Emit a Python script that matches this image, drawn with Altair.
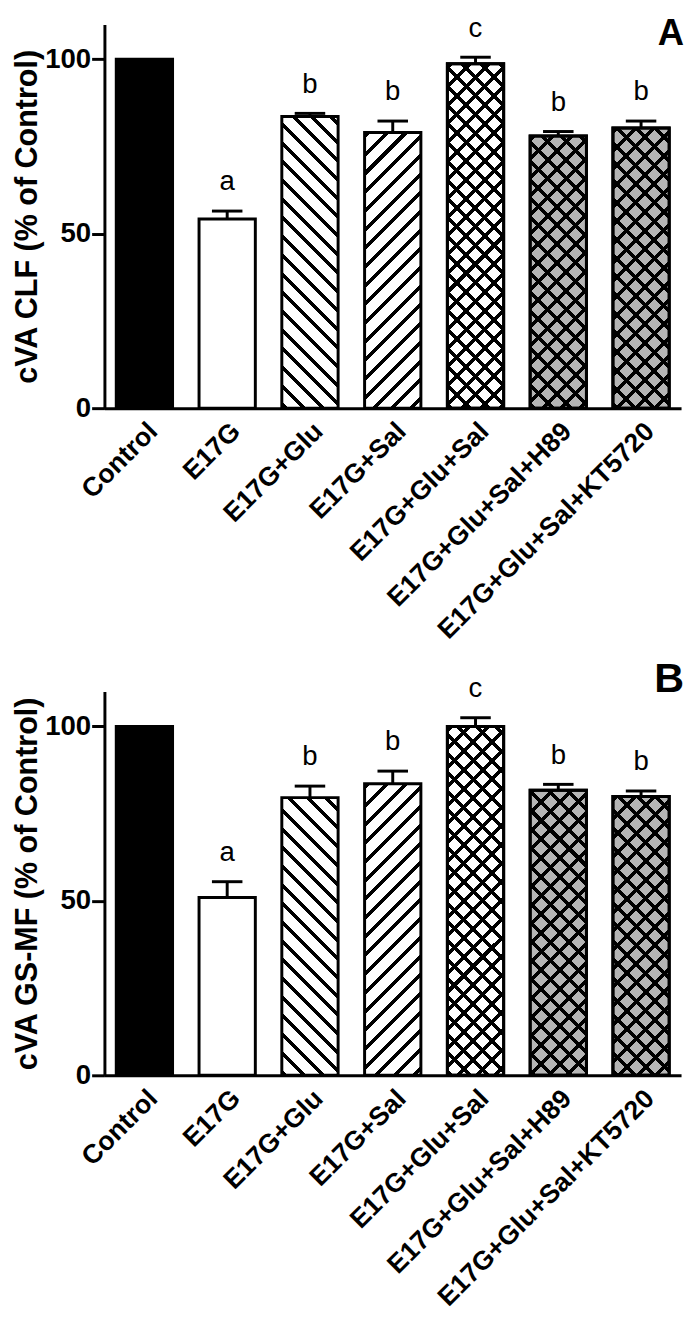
import math
import altair as alt
import pandas as pd

# ---------------- data ----------------
categories = ["Control", "E17G", "E17G+Glu", "E17G+Sal", "E17G+Glu+Sal",
              "E17G+Glu+Sal+H89", "E17G+Glu+Sal+KT5720"]
values_a = [100.0, 54.2, 83.6, 79.0, 98.7, 78.0, 80.3]
errors_a = [0.0, 2.3, 0.9, 3.3, 1.9, 1.3, 2.0]
values_b = [100.0, 51.0, 79.6, 83.6, 100.0, 81.7, 79.9]
errors_b = [0.0, 4.5, 3.3, 3.6, 2.5, 1.7, 1.6]
letters_a = ["", "a", "b", "b", "c", "b", "b"]
letters_b = ["", "a", "b", "b", "c", "b", "b"]
panel_labels = ["A", "B"]
y_titles = ["cVA CLF (% of Control)", "cVA GS-MF (% of Control)"]
y_ticks = [0, 50, 100]

# ---------------- styles ----------------
FONT = "Liberation Sans"
W, H = 586, 390
YMAX = 110
PAD_IN, PAD_OUT = 0.32, 0.143
GRAY = "#b5b5b5"
CLEAR = "rgba(0,0,0,0)"
# (background, first hatch direction, second hatch direction)
styles = [
    ("black", None, None),
    ("white", None, None),
    ("white", "\\", None),
    ("white", "/", None),
    ("white", "/", "\\"),
    (GRAY, "/", "\\"),
    (GRAY, "/", "\\"),
]

step = W / (len(categories) - PAD_IN + 2 * PAD_OUT)
BAR_W = step * (1 - PAD_IN)


def hatch(w, h, direction, bg, fg="black", period=19.0, lw=3.6, phase=4.0):
    c = (w + h) / (w * w + h * h)
    if direction == "/":
        x1, y1, x2, y2 = 0.0, 0.0, c * w, c * h
    else:
        x1, y1, x2, y2 = 0.0, 1.0, c * w, 1.0 - c * h
    L = w + h
    half = lw * math.sqrt(2) / 2
    stops = [{"offset": 0.0, "color": bg}]
    cen = phase
    while cen - half < L:
        a = max(0.0, (cen - half) / L)
        b = min(1.0, (cen + half) / L)
        if b > 0:
            a, b = round(a, 5), round(b, 5)
            stops += [{"offset": a, "color": bg}, {"offset": a, "color": fg},
                      {"offset": b, "color": fg}, {"offset": b, "color": bg}]
        cen += period
    stops.append({"offset": 1.0, "color": bg})
    return {"gradient": "linear", "x1": x1, "y1": y1,
            "x2": round(x2, 5), "y2": round(y2, 5), "stops": stops}


def panel(values, errors, letters, label, ytitle, label_y, label_size):
    df = pd.DataFrame({"cat": categories, "value": values, "err": errors,
                       "letter": letters})
    df_top = df.assign(top=df["value"] + df["err"])

    x = alt.X("cat:N", sort=categories,
              scale=alt.Scale(domain=categories, paddingInner=PAD_IN,
                              paddingOuter=PAD_OUT),
              axis=alt.Axis(title=None, ticks=False, domainWidth=3,
                            domainColor="black", labelAngle=-45,
                            labelFont=FONT, labelFontWeight="bold",
                            labelFontSize=27, labelColor="black",
                            labelPadding=10, labelLimit=0))
    yscale = alt.Scale(domain=[0, YMAX], nice=False)
    yaxis = alt.Axis(title=ytitle, values=y_ticks, grid=False, tickSize=13,
                     tickWidth=3, tickColor="black", domainWidth=3,
                     domainColor="black", labelFont=FONT,
                     labelFontWeight="bold", labelFontSize=28,
                     labelColor="black", labelPadding=1, titleFont=FONT,
                     titleFontWeight="bold", titleFontSize=31,
                     titleColor="black", titlePadding=1)

    layers = []
    for i, cat in enumerate(categories):
        bg, d1, d2 = styles[i]
        h = values[i] / YMAX * H
        fill = bg if d1 is None else hatch(BAR_W, h, d1, bg)
        base = alt.Chart(df).transform_filter(alt.datum.cat == cat).mark_bar(
            fill=fill, stroke="black", strokeWidth=3
        ).encode(x=x, y=alt.Y("value:Q", scale=yscale, axis=yaxis))
        layers.append(base)
        if d2 is not None:
            over = alt.Chart(df).transform_filter(alt.datum.cat == cat).mark_bar(
                fill=hatch(BAR_W, h, d2, CLEAR), stroke="black", strokeWidth=3
            ).encode(x=x, y=alt.Y("value:Q", scale=yscale, axis=yaxis))
            layers.append(over)

    err_base = alt.Chart(df_top).transform_filter(alt.datum.err > 0)
    rule = err_base.mark_rule(color="black", strokeWidth=3).encode(
        x=x, y=alt.Y("value:Q", scale=yscale, axis=yaxis), y2="top:Q")
    cap = err_base.mark_tick(color="black", thickness=3, size=31,
                             opacity=1).encode(
        x=x, y=alt.Y("top:Q", scale=yscale, axis=yaxis))
    txt = err_base.mark_text(font=FONT, fontSize=28, color="black",
                             baseline="alphabetic", dy=-21).encode(
        x=x, y=alt.Y("top:Q", scale=yscale, axis=yaxis), text="letter:N")
    plabel = alt.Chart(pd.DataFrame({"p": [label]})).mark_text(
        font=FONT, fontSize=label_size, fontWeight="bold", color="black",
        align="right", baseline="alphabetic").encode(
        text="p:N", x=alt.value(W + 3), y=alt.value(label_y))

    return alt.layer(*layers, rule, cap, txt, plabel).properties(
        width=W, height=H)


chart = alt.vconcat(
    panel(values_a, errors_a, letters_a, panel_labels[0], y_titles[0], 21, 37),
    panel(values_b, errors_b, letters_b, panel_labels[1], y_titles[1], 0, 42),
    spacing=14,
).properties(
    padding={"left": 4, "top": -4, "right": 0, "bottom": 0}
).configure_view(strokeWidth=0)

chart.save("out.html", embed_options={"renderer": "svg", "actions": False})
